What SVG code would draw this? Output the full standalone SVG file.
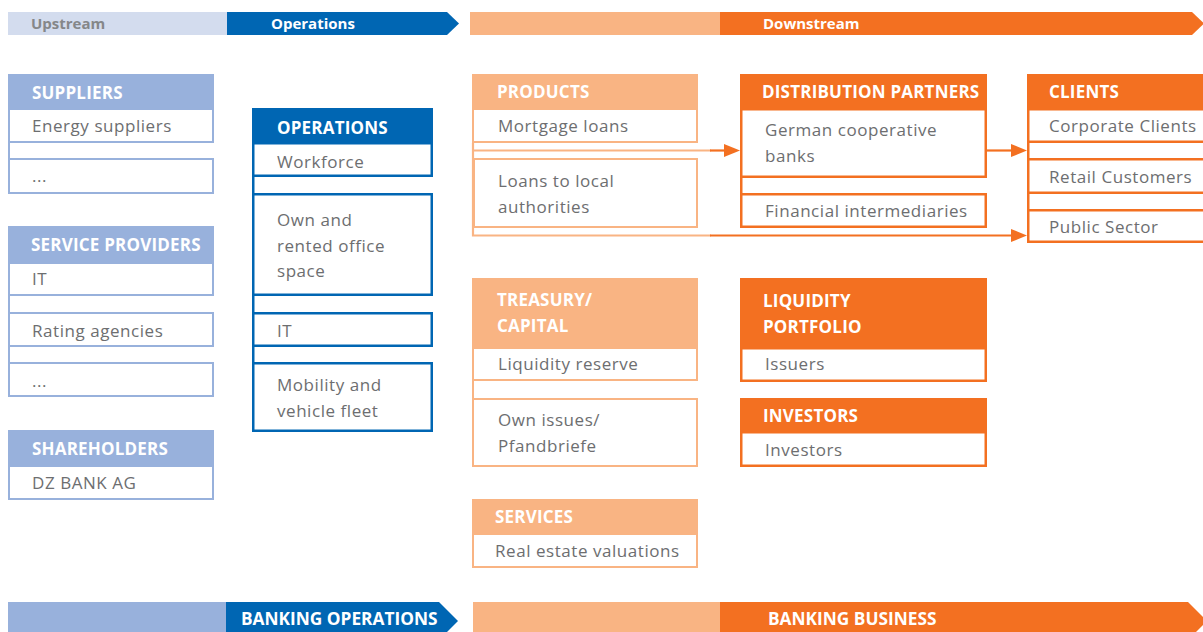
<svg xmlns="http://www.w3.org/2000/svg" width="1203" height="632" viewBox="0 0 1203 632">
  <style>
    text { font-family: "Open Sans", "Noto Sans", "Liberation Sans", sans-serif; }
    .hd { font-size: 17px; font-weight: 700; fill: #ffffff; letter-spacing: 0.2px; }
    .tx { font-size: 17px; fill: #6d6e70; letter-spacing: 0.55px; }
    .bar { font-size: 15px; font-weight: 700; fill: #ffffff; }
    .barg { font-size: 15px; font-weight: 700; fill: #858789; }
    .bbar { font-size: 17.3px; font-weight: 700; fill: #ffffff; }
    .upH { fill: #98b1dc; }
    .upB { fill: #ffffff; stroke: #98b1dc; stroke-width: 2; }
    .upL { stroke: #98b1dc; stroke-width: 2; fill: none; }
    .opH { fill: #0066b3; }
    .opB { fill: #ffffff; stroke: #0066b3; stroke-width: 2.5; }
    .opL { stroke: #0066b3; stroke-width: 2.5; fill: none; }
    .loH { fill: #f9b483; }
    .loB { fill: #ffffff; stroke: #f9b483; stroke-width: 2; }
    .loL { stroke: #f9b483; stroke-width: 2; fill: none; }
    .doH { fill: #f37021; }
    .doB { fill: #ffffff; stroke: #f37021; stroke-width: 2.5; }
    .doL { stroke: #f37021; stroke-width: 2.5; fill: none; }
  </style>
  <defs>
    <marker id="arrow" markerUnits="userSpaceOnUse" markerWidth="16" markerHeight="14" refX="0" refY="6.5" orient="auto">
      <path d="M0,0 L16,6.5 L0,13 Z" fill="#f37021"/>
    </marker>
  </defs>

  <!-- value chain bar, top -->
  <g id="top-bar">
    <rect x="8" y="12" width="219" height="23" fill="#d3dcee"/>
    <polygon points="227,12 447,12 459,23.5 447,35 227,35" fill="#0066b3"/>
    <rect x="470" y="12" width="250" height="23" fill="#f9b483"/>
    <polygon points="720,12 1192,12 1204,23.5 1192,35 720,35" fill="#f37021"/>
    <text class="barg" x="31" y="29">Upstream</text>
    <text class="bar" x="271" y="29">Operations</text>
    <text class="bar" x="763" y="29">Downstream</text>
  </g>

  <!-- upstream -->
  <g id="suppliers">
    <rect class="upH" x="8" y="74" width="206" height="34"/>
    <line class="upL" x1="9" y1="108" x2="9" y2="194"/>
    <rect class="upB" x="9" y="109" width="204" height="33"/>
    <rect class="upB" x="9" y="159" width="204" height="34"/>
    <text class="hd" x="32" y="99">SUPPLIERS</text>
    <text class="tx" x="32" y="132">Energy suppliers</text>
    <text class="tx" x="32" y="182">...</text>
  </g>
  <g id="service-providers">
    <rect class="upH" x="8" y="226" width="206" height="36"/>
    <line class="upL" x1="9" y1="262" x2="9" y2="397"/>
    <rect class="upB" x="9" y="263" width="204" height="32"/>
    <rect class="upB" x="9" y="313" width="204" height="33"/>
    <rect class="upB" x="9" y="363" width="204" height="33"/>
    <text class="hd" x="31" y="251">SERVICE PROVIDERS</text>
    <text class="tx" x="32" y="285">IT</text>
    <text class="tx" x="32" y="337">Rating agencies</text>
    <text class="tx" x="32" y="387">...</text>
  </g>
  <g id="shareholders">
    <rect class="upH" x="8" y="430" width="206" height="35"/>
    <rect class="upB" x="9" y="466" width="204" height="33"/>
    <text class="hd" x="32" y="455">SHAREHOLDERS</text>
    <text class="tx" x="32" y="489">DZ BANK AG</text>
  </g>

  <!-- operations -->
  <g id="operations">
    <rect class="opH" x="252" y="108" width="181" height="34"/>
    <line class="opL" x1="253.25" y1="142" x2="253.25" y2="432"/>
    <rect class="opB" x="253.25" y="143.25" width="178.5" height="32.5"/>
    <rect class="opB" x="253.25" y="194.25" width="178.5" height="100.5"/>
    <rect class="opB" x="253.25" y="313.25" width="178.5" height="32.5"/>
    <rect class="opB" x="253.25" y="363.25" width="178.5" height="67.5"/>
    <text class="hd" x="277" y="134">OPERATIONS</text>
    <text class="tx" x="277" y="168">Workforce</text>
    <text class="tx" x="277" y="226">Own and</text>
    <text class="tx" x="277" y="252">rented office</text>
    <text class="tx" x="277" y="277">space</text>
    <text class="tx" x="277" y="337">IT</text>
    <text class="tx" x="277" y="391">Mobility and</text>
    <text class="tx" x="277" y="417">vehicle fleet</text>
  </g>

  <!-- downstream -->
  <g id="products">
    <rect class="loH" x="472" y="74" width="226" height="34"/>
    <line class="loL" x1="473" y1="108" x2="473" y2="143"/>
    <rect class="loB" x="473" y="109" width="224" height="33"/>
    <rect class="loB" x="474" y="159" width="223" height="68"/>
    <text class="hd" x="497" y="98">PRODUCTS</text>
    <text class="tx" x="498" y="132">Mortgage loans</text>
    <text class="tx" x="498" y="187">Loans to local</text>
    <text class="tx" x="498" y="213">authorities</text>
  </g>
  <g id="distribution-partners">
    <rect class="doH" x="740" y="74" width="247" height="34"/>
    <line class="doL" x1="741.25" y1="108" x2="741.25" y2="228"/>
    <rect class="doB" x="741.25" y="109.25" width="244.5" height="67.5"/>
    <rect class="doB" x="741.25" y="194.25" width="244.5" height="32.5"/>
    <text class="hd" x="762" y="98">DISTRIBUTION PARTNERS</text>
    <text class="tx" x="765" y="136">German cooperative</text>
    <text class="tx" x="765" y="162">banks</text>
    <text class="tx" x="765" y="217">Financial intermediaries</text>
  </g>
  <g id="clients">
    <rect class="doH" x="1027" y="74" width="180" height="34"/>
    <line class="doL" x1="1028.25" y1="108" x2="1028.25" y2="243"/>
    <rect class="doB" x="1028.25" y="109.25" width="180" height="32.5"/>
    <rect class="doB" x="1028.25" y="159.25" width="180" height="33.5"/>
    <rect class="doB" x="1028.25" y="210.25" width="180" height="31.5"/>
    <text class="hd" x="1049" y="98">CLIENTS</text>
    <text class="tx" x="1049" y="132">Corporate Clients</text>
    <text class="tx" x="1049" y="183">Retail Customers</text>
    <text class="tx" x="1049" y="233">Public Sector</text>
  </g>
  <g id="treasury-capital">
    <rect class="loH" x="472" y="278" width="226" height="69"/>
    <line class="loL" x1="473" y1="347" x2="473" y2="467"/>
    <rect class="loB" x="473" y="348" width="224" height="32"/>
    <rect class="loB" x="473" y="399" width="224" height="67"/>
    <text class="hd" x="497" y="306">TREASURY/</text>
    <text class="hd" x="497" y="332">CAPITAL</text>
    <text class="tx" x="498" y="370">Liquidity reserve</text>
    <text class="tx" x="498" y="426">Own issues/</text>
    <text class="tx" x="498" y="452">Pfandbriefe</text>
  </g>
  <g id="services">
    <rect class="loH" x="472" y="499" width="226" height="34"/>
    <rect class="loB" x="473" y="534" width="224" height="33"/>
    <text class="hd" x="495" y="523">SERVICES</text>
    <text class="tx" x="495" y="557">Real estate valuations</text>
  </g>
  <g id="liquidity-portfolio">
    <rect class="doH" x="740" y="278" width="247" height="70"/>
    <rect class="doB" x="741.25" y="348.25" width="244.5" height="32.5"/>
    <text class="hd" x="763" y="307">LIQUIDITY</text>
    <text class="hd" x="763" y="333">PORTFOLIO</text>
    <text class="tx" x="765" y="370">Issuers</text>
  </g>
  <g id="investors">
    <rect class="doH" x="740" y="398" width="247" height="34"/>
    <rect class="doB" x="741.25" y="432.25" width="244.5" height="33.5"/>
    <text class="hd" x="763" y="422">INVESTORS</text>
    <text class="tx" x="765" y="456">Investors</text>
  </g>

  <!-- connectors -->
  <g id="connectors" fill="none" stroke-width="2.2">
    <path d="M473,143 V235.5 H711 M473,150.5 H711" stroke="#f9b483"/>
    <path d="M710,150.5 H724" stroke="#f37021" marker-end="url(#arrow)"/>
    <path d="M710,235.5 H1011" stroke="#f37021" marker-end="url(#arrow)"/>
    <path d="M987,150.5 H1011" stroke="#f37021" marker-end="url(#arrow)"/>
  </g>

  <!-- value chain bar, bottom -->
  <g id="bottom-bar">
    <rect x="8" y="602" width="218" height="38" fill="#98b1dc"/>
    <polygon points="226,602 439,602 458,621 439,640 226,640" fill="#0066b3"/>
    <rect x="473" y="602" width="247" height="38" fill="#f9b483"/>
    <polygon points="720,602 1188,602 1207,621 1188,640 720,640" fill="#f37021"/>
    <text class="bbar" x="241" y="625">BANKING OPERATIONS</text>
    <text class="bbar" x="768" y="625">BANKING BUSINESS</text>
  </g>
</svg>
